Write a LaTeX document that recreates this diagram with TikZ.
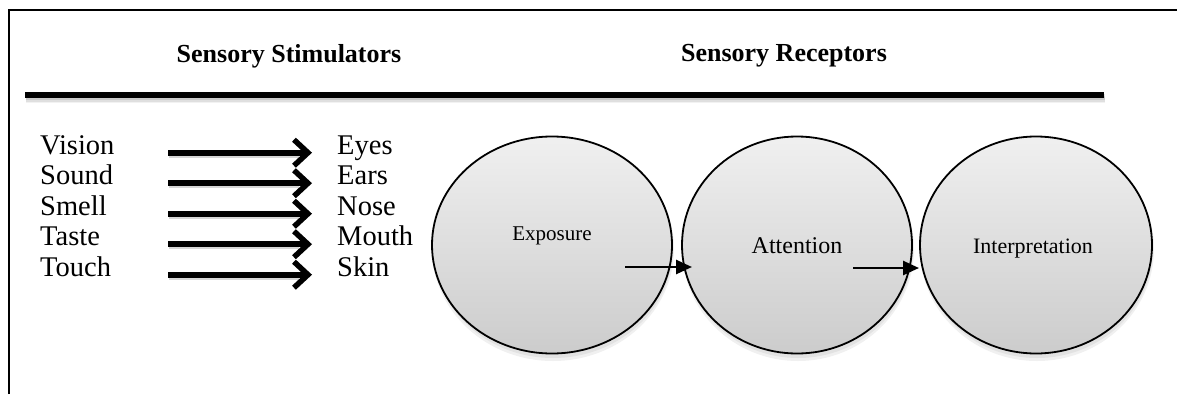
\documentclass[tikz,border=0pt]{standalone}
\usepackage{fontspec}
\setmainfont{Liberation Serif}
\usetikzlibrary{arrows.meta,shapes.geometric}

\tikzset{
  framerule/.style={line width=2.5pt},
  headrule/.style={line width=6pt},
  heading/.style={font=\fontsize{26}{30}\selectfont\bfseries, inner sep=0pt, anchor=base},
  sense/.style={font=\fontsize{28.5}{32}\selectfont, inner sep=0pt, anchor=base west},
  bigarrow/.style={line width=6pt, -{Straight Barb[length=14pt,width=26pt,line width=5.5pt]}},
  arrowshadow/.style={line width=6pt, black, opacity=0.16},
  stage/.style={ellipse, draw, line width=1.8pt, minimum height=217pt,
    top color=black!6, bottom color=black!20, inner sep=0pt},
  stagetext/.style={inner sep=0pt, anchor=base},
  smallarrow/.style={line width=2.6pt, -{Triangle[length=16pt,width=14pt]}},
}

\begin{document}
\begin{tikzpicture}[x=1pt,y=-1pt]
\useasboundingbox (0,0) rectangle (1177,394);

% outer frame: top and left rules
\coordinate (ftl) at (9,10);
\coordinate (ftr) at (1177,10);
\coordinate (fbl) at (9,394);
\draw[framerule] (fbl) -- (ftl) -- (ftr);

% headings
\node[heading] (hstim) at (289,62) {Sensory Stimulators};
\node[heading] (hrec) at (784,61) {Sensory Receptors};

% heading rule with soft shadow
\coordinate (hl) at (25,95);
\coordinate (hr) at (1104,95);
\foreach \o/\a in {2/0.10,3.5/0.08,5/0.05}
  \draw[headrule, black, opacity=\a] ([yshift=-\o pt,xshift=1pt]hl) -- ([yshift=-\o pt,xshift=1pt]hr);
\draw[headrule] (hl) -- (hr);

% stimuli and receptors
\node[sense] (vision) at (40,154)   {Vision};
\node[sense] (sound)  at (40,184.5) {Sound};
\node[sense] (smell)  at (40,215)   {Smell};
\node[sense] (taste)  at (40,245.5) {Taste};
\node[sense] (touch)  at (40,276)   {Touch};

\node[sense] (eyes)  at (337,154)   {Eyes};
\node[sense] (ears)  at (337,184.5) {Ears};
\node[sense] (nose)  at (337,215)   {Nose};
\node[sense] (mouth) at (337,245.5) {Mouth};
\node[sense] (skin)  at (337,276)   {Skin};

\foreach \s/\r in {vision/eyes,sound/ears,smell/nose,taste/mouth,touch/skin}{
  \draw[arrowshadow] ([xshift=129pt,yshift=-3pt]\s.mid west) -- ([xshift=-38pt,yshift=-3pt]\r.mid west);
  \draw[bigarrow] ([xshift=128pt,yshift=-1pt]\s.mid west) -- ([xshift=-25pt,yshift=-1pt]\r.mid west);
}

% perception stages
\foreach \x/\w in {552/240,797/230,1036/232}{
  \fill[black, opacity=0.06] (\x+1,249) ellipse ({\w/2+1} and 112);
  \fill[black, opacity=0.06] (\x+1,248) ellipse ({\w/2} and 110);
}
\node[stage, minimum width=240pt] (expo) at (552,245) {};
\node[stage, minimum width=230pt] (atte) at (797,245) {};
\node[stage, minimum width=232pt] (inte) at (1036,245) {};

\node[stagetext, font=\fontsize{21}{24}\selectfont] (expot) at (552,240) {Exposure};
\node[stagetext, font=\fontsize{24}{28}\selectfont] (attet) at (797,253) {Attention};
\node[stagetext, font=\fontsize{22}{26}\selectfont] (intet) at (1033,253) {Interpretation};

\draw[smallarrow] ([xshift=73pt,yshift=-22pt]expo.center) -- ([xshift=-105pt,yshift=-22pt]atte.center);
\draw[smallarrow] ([xshift=56pt,yshift=-23pt]atte.center) -- ([xshift=-117pt,yshift=-23pt]inte.center);
\end{tikzpicture}
\end{document}
